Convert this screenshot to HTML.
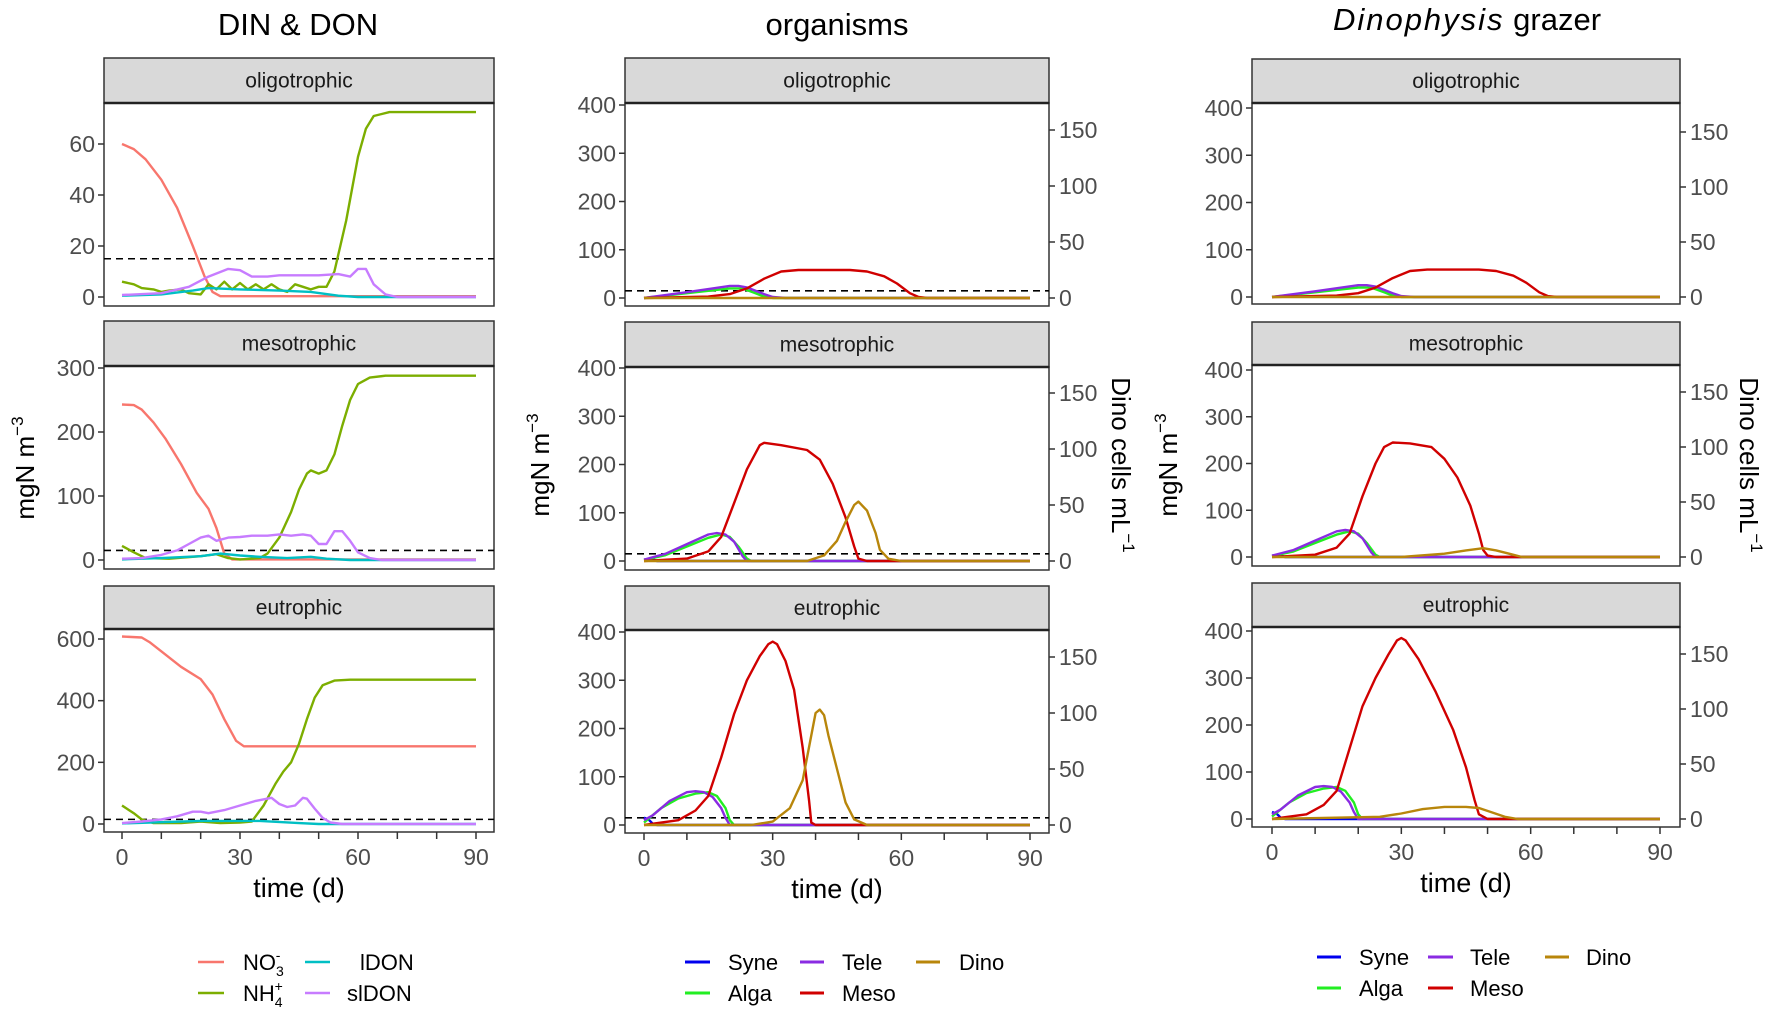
<!DOCTYPE html>
<html><head><meta charset="utf-8">
<style>
html,body{margin:0;padding:0;background:#fff;}
svg{display:block;font-family:"Liberation Sans",Arial,sans-serif;}
</style></head>
<body>
<svg id="s" width="1772" height="1013" viewBox="0 0 1772 1013" xmlns="http://www.w3.org/2000/svg">
<rect width="1772" height="1013" fill="#fff"/>
<text x="298" y="35" font-size="31" text-anchor="middle">DIN &amp; DON</text>
<text x="837" y="35" font-size="31" text-anchor="middle">organisms</text>
<text x="1467" y="30" font-size="31" text-anchor="middle"><tspan font-style="italic" letter-spacing="2">Dinophysis</tspan> grazer</text>
<g id="g"></g>
<g font-size="22" fill="#000">
<line x1="198" y1="962" x2="224" y2="962" stroke="#F8766D" stroke-width="2.5"/>
<line x1="198" y1="993" x2="224" y2="993" stroke="#7CAE00" stroke-width="2.5"/>
<line x1="305" y1="962" x2="330" y2="962" stroke="#00BFC4" stroke-width="2.5"/>
<line x1="305" y1="993" x2="330" y2="993" stroke="#C77CFF" stroke-width="2.5"/>
<text x="243" y="970">NO<tspan font-size="14" dy="6">3</tspan><tspan font-size="14" dx="-8" dy="-16">-</tspan></text>
<text x="243" y="1001">NH<tspan font-size="14" dy="6">4</tspan><tspan font-size="14" dx="-8" dy="-16">+</tspan></text>
<text x="360" y="970">lDON</text>
<text x="347" y="1001">slDON</text>
</g>
<g font-size="22" fill="#000">
<line x1="685" y1="962" x2="710" y2="962" stroke="#0000EE" stroke-width="3"/>
<line x1="685" y1="993" x2="710" y2="993" stroke="#22EE22" stroke-width="3"/>
<line x1="800" y1="962" x2="824" y2="962" stroke="#8A2BE2" stroke-width="3"/>
<line x1="800" y1="993" x2="824" y2="993" stroke="#D00000" stroke-width="3"/>
<line x1="916" y1="962" x2="940" y2="962" stroke="#B8860B" stroke-width="3"/>
<text x="728" y="970">Syne</text><text x="728" y="1001">Alga</text>
<text x="842" y="970">Tele</text><text x="842" y="1001">Meso</text>
<text x="959" y="970">Dino</text>
</g>
<g font-size="22" fill="#000">
<line x1="1317" y1="957" x2="1341" y2="957" stroke="#0000EE" stroke-width="3"/>
<line x1="1317" y1="988" x2="1341" y2="988" stroke="#22EE22" stroke-width="3"/>
<line x1="1428" y1="957" x2="1453" y2="957" stroke="#8A2BE2" stroke-width="3"/>
<line x1="1428" y1="988" x2="1453" y2="988" stroke="#D00000" stroke-width="3"/>
<line x1="1545" y1="957" x2="1569" y2="957" stroke="#B8860B" stroke-width="3"/>
<text x="1359" y="965">Syne</text><text x="1359" y="996">Alga</text>
<text x="1470" y="965">Tele</text><text x="1470" y="996">Meso</text>
<text x="1586" y="965">Dino</text>
</g>
</svg>
<script>
var NS="http://www.w3.org/2000/svg",G=document.getElementById("g");
function el(t,a,txt){var e=document.createElementNS(NS,t);for(var k in a)e.setAttribute(k,a[k]);if(txt!=null)e.textContent=txt;G.appendChild(e);return e;}
var C={no3:"#F8766D",nh4:"#7CAE00",ldon:"#00BFC4",sldon:"#C77CFF",syne:"#0000EE",alga:"#22EE22",tele:"#8A2BE2",meso:"#D00000",dino:"#B8860B"};
function panel(p){
 el("rect",{x:p.L,y:p.st,width:p.R-p.L,height:p.sb-p.st,fill:"#d9d9d9",stroke:"#333","stroke-width":1.5});
 el("text",{x:(p.L+p.R)/2,y:(p.st+p.sb)/2+7,"font-size":21,"text-anchor":"middle",fill:"#1a1a1a"},p.name);
 el("rect",{x:p.L,y:p.sb,width:p.R-p.L,height:p.b-p.sb,fill:"#fff",stroke:"#333","stroke-width":1.5});
 el("line",{x1:p.L,y1:p.sb,x2:p.R,y2:p.sb,stroke:"#222","stroke-width":2.5});
 var X=function(t){return p.x0+t*(p.x1-p.x0)/90;};
 p.ticks.forEach(function(v){var y=p.y0-v*p.ppu;
  el("line",{x1:p.L-6,y1:y,x2:p.L,y2:y,stroke:"#333","stroke-width":1.5});
  el("text",{x:p.L-9,y:y+8,"font-size":23,"text-anchor":"end",fill:"#4d4d4d"},v);});
 if(p.rppu){[0,50,100,150].forEach(function(v){var y=p.y0-v*p.rppu;
  el("line",{x1:p.R,y1:y,x2:p.R+6,y2:y,stroke:"#333","stroke-width":1.5});
  el("text",{x:p.R+10,y:y+8,"font-size":23,fill:"#4d4d4d"},v);});}
 if(p.dash){var yd=p.y0-15*p.ppu;el("line",{x1:p.L,y1:yd,x2:p.R,y2:yd,stroke:"#000","stroke-width":1.6,"stroke-dasharray":"7,5"});}
 p.series.forEach(function(s){
  var pts=s.d,d="";var sc=s.right?p.rppu:p.ppu;
  for(var i=0;i<pts.length;i++){d+=(i?"L":"M")+X(pts[i][0]).toFixed(1)+","+(p.y0-pts[i][1]*sc).toFixed(1);}
  el("path",{d:d,fill:"none",stroke:C[s.c],"stroke-width":s.w||2.4,"stroke-linejoin":"round"});
 });
 if(p.xaxis){
  for(var t=0;t<=90;t+=10){var x=X(t);el("line",{x1:x,y1:p.b,x2:x,y2:p.b+7,stroke:"#333","stroke-width":1.5});
   if(t%30==0)el("text",{x:x,y:p.b+33,"font-size":23,"text-anchor":"middle",fill:"#4d4d4d"},t);}
  el("text",{x:(p.L+p.R)/2,y:p.b+65,"font-size":27,"text-anchor":"middle"},"time (d)");
 }
}
var D={
o1:[{c:"no3",d:[[0,60],[3,58],[6,54],[10,46],[14,35],[18,20],[21,8],[23,2],[25,0.3],[55,0.3],[90,0.3]]},
{c:"nh4",d:[[0,6],[3,5],[5,3.5],[8,3],[10,2],[12,2.5],[15,3],[17,1.5],[20,1],[22,5],[24,3],[26,6],[28,3],[30,5.5],[32,3],[34,5],[36,3],[38,5],[40,3],[42,2],[44,5],[46,4],[48,3],[50,4],[52,4],[54,10],[57,30],[60,55],[62,66],[64,71],[68,72.5],[90,72.5]]},
{c:"ldon",d:[[0,0.5],[10,1],[18,2.5],[22,3.5],[30,3],[40,2.5],[48,2],[55,0.5],[60,0],[90,0]]},
{c:"sldon",d:[[0,0.8],[10,1.5],[17,4],[22,8],[27,11],[30,10.5],[33,8],[37,8],[40,8.5],[50,8.5],[55,9],[58,8],[60,11],[62,11],[64,5],[67,1],[70,0],[90,0]]}],
m1:[{c:"no3",d:[[0,243],[3,242],[5,235],[8,215],[11,190],[15,150],[19,105],[22,80],[24,50],[26,10],[28,1],[90,1]]},
{c:"nh4",d:[[0,22],[3,12],[6,3],[12,2],[20,6],[24,9],[27,3],[30,1],[35,3],[37,10],[40,35],[43,75],[45,110],[47,135],[48,140],[50,135],[52,140],[54,165],[56,210],[58,250],[60,275],[63,285],[67,288],[90,288]]},
{c:"ldon",d:[[0,1],[10,3],[20,6],[25,10],[30,7],[35,5],[42,3],[48,5],[52,2],[58,0],[90,0]]},
{c:"sldon",d:[[0,2],[5,3],[10,8],[14,15],[17,25],[20,35],[22,38],[24,30],[27,35],[30,36],[33,38],[37,38],[40,40],[43,38],[46,40],[48,38],[50,25],[52,25],[54,45],[56,45],[58,30],[60,12],[63,3],[66,0],[90,0]]}],
e1:[{c:"no3",d:[[0,608],[5,605],[7,590],[10,560],[15,510],[20,470],[23,420],[26,340],[29,270],[31,252],[90,252]]},
{c:"nh4",d:[[0,60],[3,35],[5,15],[8,3],[15,3],[20,8],[25,3],[30,5],[33,8],[36,60],[39,130],[41,170],[43,200],[45,260],[47,340],[49,410],[51,450],[54,465],[58,468],[90,468]]},
{c:"ldon",d:[[0,2],[20,10],[35,10],[45,3],[50,0],[90,0]]},
{c:"sldon",d:[[0,3],[5,8],[10,15],[14,25],[18,40],[20,40],[22,35],[26,45],[30,60],[34,75],[38,85],[40,65],[42,55],[44,60],[46,85],[47,82],[49,50],[51,20],[53,5],[56,0],[90,0]]}]
};
var oOrg=[{c:"alga",d:[[0,0],[10,10],[20,20],[23,20],[26,10],[28,3],[30,0],[90,0]]},
{c:"tele",d:[[0,0],[10,12],[20,25],[22,25],[24,22],[26,15],[28,8],[30,2],[33,0],[90,0]]},
{c:"meso",d:[[0,0],[15,3],[20,8],[24,20],[28,40],[32,55],[36,58],[48,58],[52,55],[56,45],[59,30],[62,10],[64,2],[66,0],[90,0]]},
{c:"dino",right:1,d:[[0,0],[90,0]]}];
var mOrg2=[{c:"syne",d:[[0,3],[2,4],[3,0],[90,0]]},
{c:"alga",d:[[0,2],[5,12],[10,30],[15,48],[18,55],[20,50],[22,30],[24,5],[25,0],[90,0]]},
{c:"tele",d:[[0,3],[5,15],[10,35],[15,55],[17,58],[19,55],[21,40],[23,10],[24,0],[90,0]]},
{c:"meso",d:[[0,0],[10,5],[15,20],[18,50],[21,120],[24,190],[27,240],[28,245],[32,240],[38,230],[41,210],[44,160],[47,90],[49,30],[50,5],[52,0],[90,0]]},
{c:"dino",right:1,d:[[0,0],[38,0],[42,5],[45,18],[47,35],[49,50],[50,53],[52,45],[54,25],[55,10],[57,2],[60,0],[90,0]]}];
var eOrg2=[{c:"syne",d:[[0,15],[1,12],[2,3],[3,0],[90,0]]},
{c:"alga",d:[[0,5],[4,35],[8,55],[12,65],[15,68],[17,60],[19,35],[20,10],[21,0],[90,0]]},
{c:"tele",d:[[0,10],[2,20],[6,50],[10,68],[12,70],[14,68],[16,58],[18,35],[19,15],[20,0],[90,0]]},
{c:"meso",d:[[0,0],[8,10],[12,30],[15,60],[18,140],[21,230],[24,300],[27,350],[29,375],[30,380],[31,375],[33,340],[35,280],[37,160],[38.5,50],[39,5],[40,0],[90,0]]},
{c:"dino",right:1,d:[[0,0],[25,0],[30,3],[34,15],[37,40],[39,80],[40,100],[41,103],[42,98],[43,80],[45,50],[47,20],[49,5],[52,0],[90,0]]}];
var mOrg3=[mOrg2[0],mOrg2[1],mOrg2[2],
{c:"meso",d:[[0,0],[10,5],[15,20],[18,50],[21,130],[24,200],[26,235],[28,245],[32,243],[37,235],[40,210],[43,170],[46,110],[48,50],[49,15],[50,3],[52,0],[90,0]]},
{c:"dino",right:1,d:[[0,0],[30,0],[40,3],[45,6],[49,8],[52,6],[55,3],[58,0],[90,0]]}];
var eOrg3=[eOrg2[0],eOrg2[1],eOrg2[2],
{c:"meso",d:[[0,0],[8,10],[12,30],[15,60],[18,150],[21,240],[24,300],[27,350],[29,380],[30,385],[31,380],[34,340],[38,270],[42,190],[45,110],[47,40],[48,10],[50,0],[90,0]]},
{c:"dino",right:1,d:[[0,0],[25,2],[30,5],[35,9],[40,11],[45,11],[48,10],[51,6],[54,2],[57,0],[90,0]]}];
var P=[
{L:104,R:494,x0:122,x1:476,st:58,sb:103,b:306,y0:297,ppu:153/60,ticks:[0,20,40,60],name:"oligotrophic",dash:1,series:D.o1},
{L:104,R:494,x0:122,x1:476,st:321,sb:366,b:569,y0:560,ppu:192/300,ticks:[0,100,200,300],name:"mesotrophic",dash:1,series:D.m1},
{L:104,R:494,x0:122,x1:476,st:586,sb:629,b:832,y0:824,ppu:185/600,ticks:[0,200,400,600],name:"eutrophic",dash:1,series:D.e1,xaxis:1},
{L:625,R:1049,x0:644,x1:1030,st:58,sb:103,b:306,y0:298,ppu:193/400,rppu:1.12,ticks:[0,100,200,300,400],name:"oligotrophic",dash:1,series:oOrg},
{L:625,R:1049,x0:644,x1:1030,st:322,sb:367,b:570,y0:561,ppu:193/400,rppu:1.12,ticks:[0,100,200,300,400],name:"mesotrophic",dash:1,series:mOrg2},
{L:625,R:1049,x0:644,x1:1030,st:586,sb:630,b:833,y0:825,ppu:193/400,rppu:1.12,ticks:[0,100,200,300,400],name:"eutrophic",dash:1,series:eOrg2,xaxis:1},
{L:1252,R:1680,x0:1272,x1:1660,st:59,sb:103,b:304,y0:297,ppu:0.4725,rppu:1.1,ticks:[0,100,200,300,400],name:"oligotrophic",series:oOrg},
{L:1252,R:1680,x0:1272,x1:1660,st:322,sb:365,b:566,y0:557,ppu:0.4675,rppu:1.1,ticks:[0,100,200,300,400],name:"mesotrophic",series:mOrg3},
{L:1252,R:1680,x0:1272,x1:1660,st:583,sb:627,b:827,y0:819,ppu:0.47,rppu:1.1,ticks:[0,100,200,300,400],name:"eutrophic",series:eOrg3,xaxis:1}
];
P.forEach(panel);
function ylab(x,y,rot,parts){var t=el("text",{x:0,y:0,"font-size":26,"text-anchor":"middle",transform:"translate("+x+","+y+") rotate("+rot+")"});
 t.innerHTML=parts;}
ylab(34,468,-90,'mgN m<tspan font-size="17" dy="-11">−3</tspan>');
ylab(549,465,-90,'mgN m<tspan font-size="17" dy="-11">−3</tspan>');
ylab(1177,465,-90,'mgN m<tspan font-size="17" dy="-11">−3</tspan>');
ylab(1112,465,90,'Dino cells mL<tspan font-size="17" dy="-11">−1</tspan>');
ylab(1740,465,90,'Dino cells mL<tspan font-size="17" dy="-11">−1</tspan>');
</script>
</body></html>
